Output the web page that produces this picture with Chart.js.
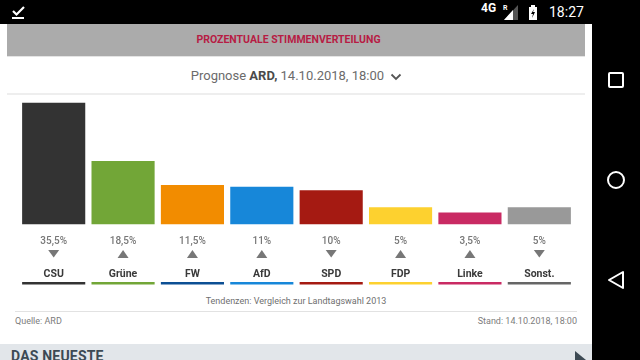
<!DOCTYPE html>
<html>
<head>
<meta charset="utf-8">
<script src="https://cdn.jsdelivr.net/npm/chart.js@4"></script>
<style>
html, body { margin: 0; padding: 0; background: #000; overflow: hidden; }
body { width: 640px; height: 360px; position: relative; font-family: Roboto, sans-serif; }
#page { position: absolute; left: 0; top: 24px; width: 592px; height: 336px; background: #fff; overflow: hidden; }
#head { position: absolute; left: 7px; top: 0; width: 563px; height: 33px; background: #ababab; border-bottom: 1px solid #e4e4e4; box-sizing: border-box;
  text-align: center; line-height: 32px; font-size: 10.5px; font-weight: 700; color: #b71c44; }
#headfill { position: absolute; left: 570px; top: 0; width: 15px; height: 33px; background: #ababab; border-bottom: 1px solid #e4e4e4; box-sizing: border-box; }
#sel { position: absolute; left: 0; top: 43px; width: 593px; text-align: center; font-size: 13px; line-height: 18px; color: #6b6b6b; }
#sel b { color: #4a4a4a; font-weight: 700; }
#sel svg { margin-left: 3px; vertical-align: -1px; }
.rule { position: absolute; background: #eee; height: 2px; }
#tend { position: absolute; left: 0; width: 592px; top: 271px; text-align: center; font-size: 9px; line-height: 12px; color: #6f6f6f; }
.src { position: absolute; top: 291px; font-size: 9px; line-height: 12px; color: #7c7c7c; }
#neu { position: absolute; left: 0; top: 320px; width: 592px; height: 16px; background: #e2e6ea; overflow: hidden; }
#neu span { position: absolute; left: 11px; top: 3px; font-size: 14px; line-height: 18px; font-weight: 700; color: #3d4a54; letter-spacing: .2px; }
#chart { position: absolute; left: 0; top: 71px; }
.status { position: absolute; color: #fff; font-family: Roboto, sans-serif; }
svg.ico { position: absolute; }
</style>
</head>
<body>
<svg class="ico" style="left:10px;top:2px" width="20" height="18"><path d="M3 9l3.5 3.5L14 5" fill="none" stroke="#fff" stroke-width="2.2"/><rect x="2" y="15" width="12" height="2" fill="#fff"/></svg>
<div class="status" style="left:481px;top:1px;font-size:12px;line-height:14px;font-weight:700">4G</div>
<div class="status" style="left:503px;top:4px;font-size:7px;line-height:9px;font-weight:700">R</div>
<svg class="ico" style="left:503px;top:4px" width="16" height="17"><path d="M15 1v15H1z" fill="#555"/><path d="M10 6v10H1z" fill="#fff"/></svg>
<svg class="ico" style="left:527px;top:5px" width="12" height="15"><path d="M4 0h4v2h2v13H2V2h2z" fill="#fff"/><path d="M7 4L4 9h2l-1 4 3-6H6z" fill="#000"/></svg>
<div class="status" style="left:549px;top:4px;font-size:14px;line-height:16px">18:27</div>

<div id="page">
  <div id="head">PROZENTUALE STIMMENVERTEILUNG</div>
  <div id="headfill"></div>
  <div id="sel">Prognose <b>ARD,</b> 14.10.2018, 18:00 <svg width="12" height="8"><path d="M1.5 1.5L6 6l4.5-4.5" fill="none" stroke="#555" stroke-width="1.8"/></svg></div>
  <div class="rule" style="left:7px;top:69px;width:578px"></div>
  <canvas id="chart" width="592" height="200"></canvas>
  <div id="tend">Tendenzen: Vergleich zur Landtagswahl 2013</div>
  <div class="rule" style="left:15px;top:287px;width:562px;height:1px;background:#e2e2e2"></div>
  <div class="src" style="left:15px">Quelle: ARD</div>
  <div class="src" style="right:15px">Stand: 14.10.2018, 18:00</div>
  <div id="neu"><span>DAS NEUESTE</span><svg class="ico" style="left:575px;top:7px" width="12" height="9"><path d="M0 0l11 9H0z" fill="#3d4a54"/></svg></div>
</div>

<svg class="ico" style="left:607px;top:71px" width="18" height="18"><rect x="2" y="2" width="14" height="14" rx="1" fill="none" stroke="#fff" stroke-width="2"/></svg>
<svg class="ico" style="left:606px;top:170px" width="20" height="20"><circle cx="10" cy="10" r="8" fill="none" stroke="#fff" stroke-width="2"/></svg>
<svg class="ico" style="left:606px;top:270px" width="20" height="20"><path d="M17 2v16L3 10z" fill="none" stroke="#fff" stroke-width="2" stroke-linejoin="round"/></svg>

<script>
const parties = ['CSU', 'Grüne', 'FW', 'AfD', 'SPD', 'FDP', 'Linke', 'Sonst.'];
const shares = [35.5, 18.5, 11.5, 11, 10, 5, 3.5, 5];
const trends = ['down', 'up', 'up', 'up', 'down', 'up', 'up', 'down'];
const barColors = ['#333333', '#72a637', '#f28c00', '#1787d9', '#a51a12', '#fdd12f', '#c92a63', '#999999'];
const lineColors = ['#333333', '#72a637', '#0c4f94', '#1787d9', '#a51a12', '#fdd12f', '#c92a63', '#666666'];

// percent labels, trend arrows and coloured lines under the bars
const underBars = {
    id: 'underBars',
    afterDraw(chart) {
        const ctx = chart.ctx;
        const x = chart.scales.x;
        const bottom = chart.chartArea.bottom;
        const bars = chart.getDatasetMeta(0).data;
        ctx.save();
        shares.forEach((v, i) => {
            const cx = x.getPixelForValue(i);
            const w = bars[i].width;
            ctx.fillStyle = '#777';
            ctx.font = '500 10px Roboto';
            ctx.textAlign = 'center';
            ctx.textBaseline = 'middle';
            ctx.fillText(String(v).replace('.', ',') + '%', cx, bottom + 16.5);
            ctx.beginPath();
            if (trends[i] === 'up') {
                ctx.moveTo(cx - 5.5, bottom + 33.5);
                ctx.lineTo(cx + 5.5, bottom + 33.5);
                ctx.lineTo(cx, bottom + 25.5);
            } else {
                ctx.moveTo(cx - 5.5, bottom + 25.5);
                ctx.lineTo(cx + 5.5, bottom + 25.5);
                ctx.lineTo(cx, bottom + 33);
            }
            ctx.closePath();
            ctx.fill();
            ctx.fillStyle = lineColors[i];
            ctx.fillRect(cx - w / 2, bottom + 57.5, w, 2.5);
        });
        ctx.restore();
    }
};

new Chart(document.getElementById('chart'), {
    type: 'bar',
    data: {
        labels: parties,
        datasets: [{
            data: shares,
            backgroundColor: barColors,
            barPercentage: 0.91,
            categoryPercentage: 1
        }]
    },
    options: {
        responsive: false,
        animation: false,
        layout: { padding: { left: 19, right: 18, top: 7.5, bottom: 0 } },
        plugins: { legend: { display: false }, tooltip: { enabled: false } },
        scales: {
            x: {
                grid: { display: false },
                border: { display: false },
                afterFit(scale) { scale.height = 70.5; },
                ticks: {
                    autoSkip: false,
                    maxRotation: 0,
                    padding: 36,
                    color: '#3a3a3a',
                    font: { family: 'Roboto', size: 10.5, weight: '700' }
                }
            },
            y: { display: false, min: 0, max: 35.5 }
        }
    },
    plugins: [underBars]
});
</script>
</body>
</html>
